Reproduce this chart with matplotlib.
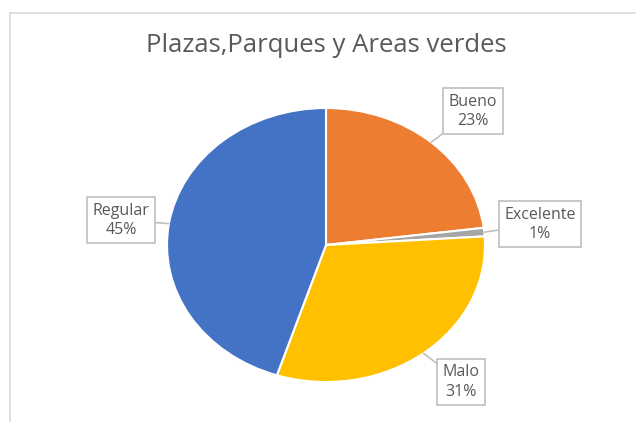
import matplotlib.pyplot as plt
from matplotlib.lines import Line2D
import numpy as np

title = "Plazas,Parques y Areas verdes"
labels = ["Bueno", "Excelente", "Malo", "Regular"]
values = [23, 1, 31, 45]
colors = ["#ED7D31", "#A5A5A5", "#FFC000", "#4472C4"]

# where each callout box sits, in axes data units (pie radius = 1)
label_pos = [(0.925, 0.978), (1.346, 0.153), (0.849, -1.0), (-1.289, 0.182)]

plt.rcParams["font.family"] = ["Open Sans", "DejaVu Sans"]
text_grey = "#595959"
line_grey = "#BFBFBF"

W, H = 636, 422
dpi = 100
fig = plt.figure(figsize=(W / dpi, H / dpi), dpi=dpi)

# chart area border (only its top and left sides fall inside the image)
fx, fy = 9.5 / W, 1 - 12.5 / H
fig.add_artist(Line2D([fx, fx], [-0.01, fy], color="#D9D9D9", lw=1.2))
fig.add_artist(Line2D([fx, 1.01], [fy, fy], color="#D9D9D9", lw=1.2))

# pie is stretched wider than tall
cx, cy, rx, ry = 326, 245, 159, 137
ax = fig.add_axes([(cx - rx) / W, (H - cy - ry) / H, 2 * rx / W, 2 * ry / H])

wedges, _ = ax.pie(values, colors=colors, startangle=90, counterclock=False,
                   wedgeprops=dict(edgecolor="white", linewidth=1.5))
ax.set_aspect("auto")
ax.set_xlim(-1, 1)
ax.set_ylim(-1, 1)
ax.axis("off")

total = sum(values)
for w, lab, v, pos in zip(wedges, labels, values, label_pos):
    mid = np.deg2rad((w.theta1 + w.theta2) / 2)
    edge = (np.cos(mid), np.sin(mid))
    ax.annotate(f"{lab}\n{round(100 * v / total)}%", xy=edge, xytext=pos,
                ha="center", va="center", fontsize=11.5, color=text_grey,
                linespacing=1.25, annotation_clip=False,
                bbox=dict(boxstyle="square,pad=0.35", fc="white", ec=line_grey, lw=1.2),
                arrowprops=dict(arrowstyle="-", color=line_grey, lw=1.2,
                                shrinkA=0, shrinkB=0))

fig.text(cx / W, 1 - 45 / H, title, ha="center", va="center",
         fontsize=18.5, color=text_grey)

fig.savefig("out.png", dpi=dpi)
